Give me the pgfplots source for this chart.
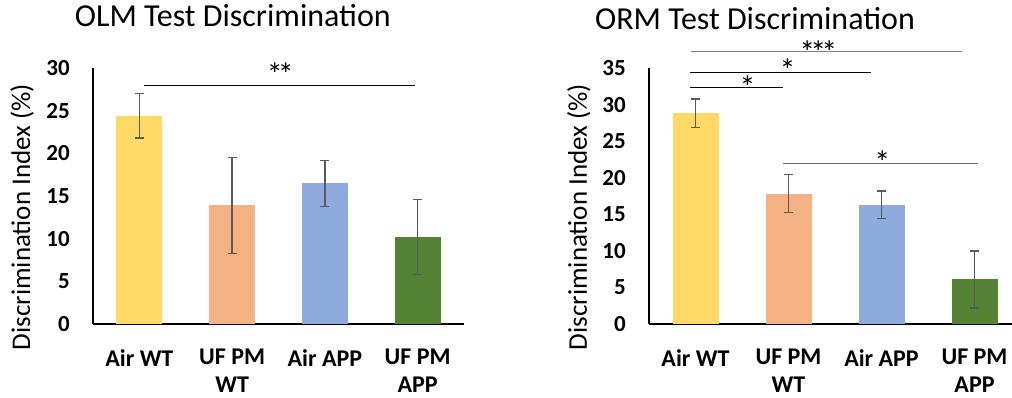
\documentclass[border=0pt]{standalone}
\usepackage{fontspec}
\setmainfont{Carlito}
\usepackage{pgfplots}
\pgfplotsset{compat=1.18}
\definecolor{cYel}{HTML}{FFD966}
\definecolor{cOra}{HTML}{F4B183}
\definecolor{cBlu}{HTML}{8FAADC}
\definecolor{cGrn}{HTML}{548235}
\definecolor{cErr}{HTML}{595959}
\tikzset{star/.style={anchor=base, inner sep=0pt, font=\fontsize{32}{36}\selectfont}}
\newcommand{\st}{*\kern-5pt}
\pgfplotsset{
  mybar/.style={scale only axis, height=256pt, ymin=0,
    axis x line*=bottom, axis y line*=left,
    axis line style={line width=1.6pt, black},
    major tick length=0pt, clip=false,
    xtick={0,1,2,3},
    xticklabels={Air WT,{UF PM\\WT},Air APP,{UF PM\\APP}},
    xticklabel style={align=center, inner sep=0pt, anchor=north, yshift=-25pt,
      font=\bfseries\fontsize{24}{28}\selectfont},
    yticklabel style={inner sep=0pt, anchor=east, xshift=-23pt,
      font=\bfseries\fontsize{23}{26}\selectfont},
    /pgf/number format/assume math mode=true,
    ylabel={Discrimination Index (\%)},
    ylabel style={anchor=center, font=\fontsize{27}{32}\selectfont},
    title style={anchor=center, font=\fontsize{32}{38}\selectfont},
  },
  b/.style={ybar, bar width=46pt, bar shift=0pt, fill=#1, draw=none,
    error bars/.cd, y dir=both, y explicit,
    error bar style={line width=1.3pt, cErr},
    error mark options={rotate=90, mark size=4.5pt, line width=1.3pt, cErr}},
}
\begin{document}
\begin{tikzpicture}
\useasboundingbox (0,0) rectangle (1012pt,398pt);
\begin{axis}[mybar, at={(93pt,74pt)}, anchor=south west, width=371pt,
  xmin=-0.5, xmax=3.5, ymax=30, ytick={0,5,...,30},
  title={OLM Test Discrimination},
  title style={at={(axis description cs:0.377,1.18)}},
  ylabel style={at={(axis description cs:-0.191,0.418)}}]
\addplot[b=cYel] coordinates {(0,24.4) +- (0,2.6)};
\addplot[b=cOra] coordinates {(1,13.9) +- (0,5.6)};
\addplot[b=cBlu] coordinates {(2,16.5) +- (0,2.7)};
\addplot[b=cGrn] coordinates {(3,10.2) +- (0,4.4)};
\draw[line width=1pt, black] (axis cs:0.05,28.0) -- (axis cs:2.97,28.0);
\node[star] at (axis cs:1.52,27.9) {*\kern-5pt*};
\end{axis}
\begin{axis}[mybar, at={(649pt,74pt)}, anchor=south west, width=363pt,
  xmin=-0.5, xmax=3.403, ymax=35, ytick={0,5,...,35},
  title={ORM Test Discrimination},
  title style={at={(axis description cs:0.292,1.168)}},
  ylabel style={at={(axis description cs:-0.193,0.418)}}]
\addplot[b=cYel] coordinates {(0,28.8) +- (0,1.95)};
\addplot[b=cOra] coordinates {(1,17.8) +- (0,2.6)};
\addplot[b=cBlu] coordinates {(2,16.3) +- (0,1.9)};
\addplot[b=cGrn] coordinates {(3,6.1) +- (0,3.9)};
\draw[line width=1pt, gray] (axis cs:-0.05,37.2) -- (axis cs:2.86,37.2);
\draw[line width=1pt, black] (axis cs:-0.06,34.4) -- (axis cs:1.89,34.4);
\draw[line width=1pt, black] (axis cs:-0.06,32.4) -- (axis cs:0.94,32.4);
\draw[line width=1pt, gray!80!black] (axis cs:0.94,21.9) -- (axis cs:3.04,21.9);
\node[star] at (axis cs:1.32,35.6) {*\kern-5pt*\kern-5pt*};
\node[star] at (axis cs:0.99,33.1) {*};
\node[star] at (axis cs:0.56,30.8) {*};
\node[star] at (axis cs:2.01,20.6) {*};
\end{axis}
\end{tikzpicture}
\end{document}
